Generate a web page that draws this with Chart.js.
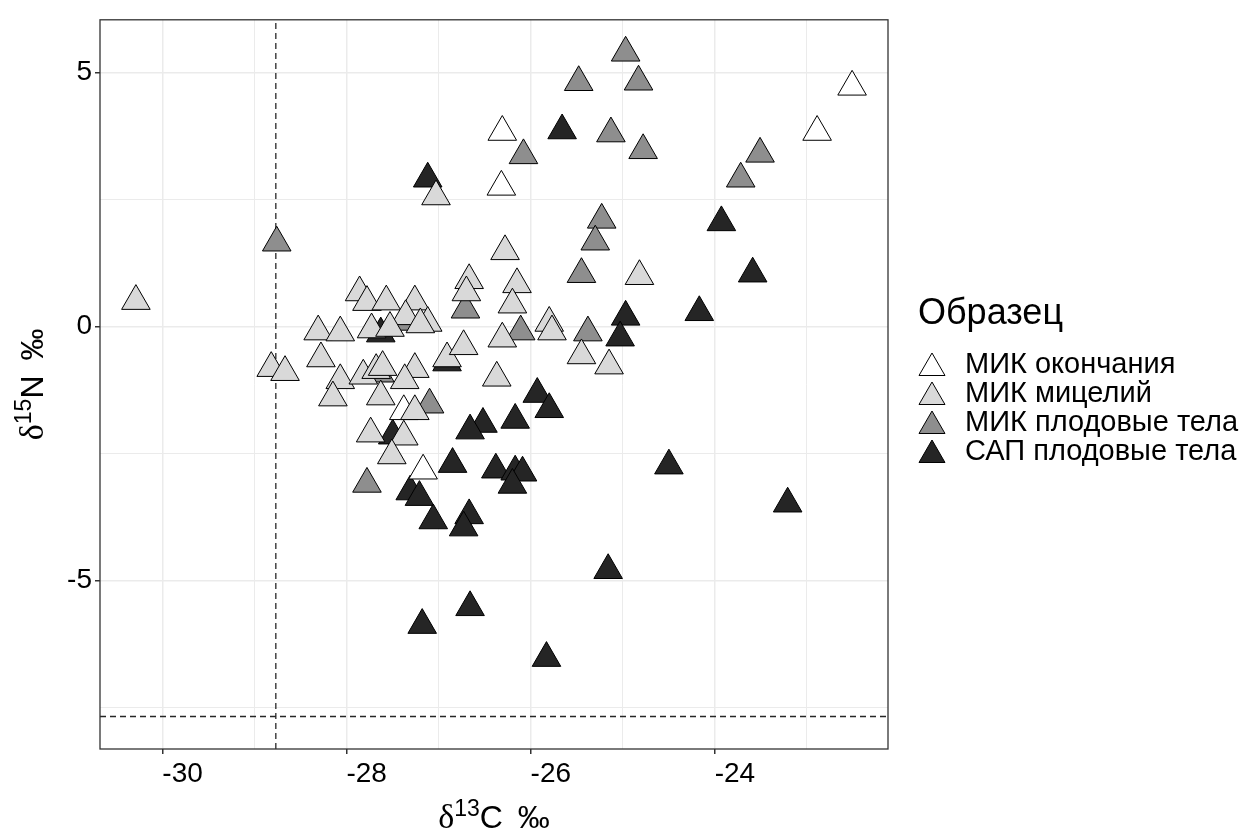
<!DOCTYPE html>
<html>
<head>
<meta charset="utf-8">
<script src="https://cdn.jsdelivr.net/npm/chart.js@4.4.1/dist/chart.umd.min.js"></script>
<style>
  html, body { margin: 0; padding: 0; background: #ffffff; }
  #wrap { width: 1241px; height: 834px; }
</style>
</head>
<body>
<div id="wrap"><canvas id="isoChart" width="1241" height="834"></canvas></div>
<script>
// groups, in legend order
const groupNames = ['МИК окончания', 'МИК мицелий', 'МИК плодовые тела', 'САП плодовые тела'];
const groupFill = ['#ffffff', '#d9d9d9', '#8e8e8e', '#252525'];

// δ13C / δ15N values
const okonX = [-26.31, -26.32, -22.89, -22.51, -27.38, -27.17];
const okonY = [3.83, 2.75, 3.83, 4.72, -1.67, -2.84];

const micX = [-30.29, -27.03, -26.28, -24.82, -26.15, -26.20, -25.80, -25.77, -26.31, -25.45,
	-25.15, -26.37, -27.86, -27.78, -27.57, -27.26, -26.67, -26.70, -27.36, -27.12,
	-27.20, -27.73, -27.53, -28.31, -28.07, -28.82, -28.67, -28.28, -28.07, -28.15,
	-27.82, -27.68, -27.61, -27.26, -27.37, -27.63, -26.91, -26.73, -27.26, -27.74,
	-27.38, -27.51];
const micY = [0.50, 2.56, 1.48, 0.99, 0.83, 0.43, 0.07, -0.10, -0.24, -0.57,
	-0.77, -1.01, 0.67, 0.48, 0.49, 0.49, 0.91, 0.67, 0.20, 0.07,
	0.04, -0.06, -0.03, -0.10, -0.12, -0.82, -0.90, -0.63, -1.06, -1.40,
	-0.97, -0.86, -0.80, -0.84, -1.06, -1.38, -0.63, -0.39, -1.67, -2.11,
	-2.17, -2.54];

const plodX = [-28.76, -24.97, -25.48, -24.83, -25.13, -24.78, -26.08, -23.51, -23.72, -25.23,
	-25.30, -25.45, -26.71, -27.38, -26.11, -25.38, -27.10, -27.78, -27.64];
const plodY = [1.65, 5.39, 4.81, 4.82, 3.80, 3.47, 3.37, 3.40, 2.91, 2.10,
	1.67, 1.03, 0.33, 0.09, -0.10, -0.12, -1.54, -3.10, -0.93];

const sapX = [-27.12, -25.66, -23.93, -23.59, -24.97, -24.17, -25.03, -26.91, -25.93, -25.80,
	-26.52, -26.17, -26.66, -27.50, -26.85, -26.38, -26.17, -26.09, -26.20, -24.50,
	-23.21, -27.31, -27.21, -27.06, -26.67, -26.73, -26.66, -27.18, -25.83, -25.16,
	-27.63];
const sapY = [2.91, 3.86, 2.05, 1.04, 0.19, 0.28, -0.22, -0.71, -1.33, -1.63,
	-1.92, -1.84, -2.05, -2.15, -2.71, -2.82, -2.86, -2.88, -3.12, -2.74,
	-3.49, -3.25, -3.36, -3.82, -3.72, -3.96, -5.53, -5.88, -6.53, -4.80,
	-0.14];

// reference lines
const vlineX = -28.77;
const hlineY = -7.68;

// axes
const xMin = -30.68, xMax = -22.12;
const yMin = -8.32, yMax = 6.04;
const xTickValues = [-30, -28, -26, -24];
const xTickLabels = ['-30', '-28', '-26', '-24'];
const xMinorValues = [-29, -27, -25, -23];
const yTickValues = [-5, 0, 5];
const yTickLabels = ['-5', '0', '5'];
const yMinorValues = [-7.5, -2.5, 2.5];

const FONT = '"Liberation Sans", Arial, sans-serif';

function toPoints(xs, ys) {
	return xs.map((x, i) => ({ x: x, y: ys[i] }));
}

function pointSet(label, xs, ys, fill, order) {
	return {
		label: label,
		data: toPoints(xs, ys),
		pointStyle: 'triangle',
		pointRadius: 16.5,
		pointHoverRadius: 16.5,
		backgroundColor: fill,
		borderColor: '#000000',
		borderWidth: 1,
		order: order
	};
}

function refLine(points) {
	return {
		label: '',
		data: points,
		showLine: true,
		pointRadius: 0,
		borderColor: '#262626',
		borderWidth: 1.3,
		borderDash: [6, 4],
		order: 10
	};
}

function isMajor(values, v) {
	return values.some(m => Math.abs(m - v) < 1e-6);
}

// grid + ticks that look like ggplot theme_bw
function axisOptions(min, max, majors, labels, minors, fit, labelShift) {
	const all = majors.concat(minors).sort((a, b) => a - b);
	return {
		type: 'linear',
		min: min,
		max: max,
		afterBuildTicks: scale => { scale.ticks = all.map(v => ({ value: v })); },
		afterFit: fit,
		grid: {
			color: '#ebebeb',
			lineWidth: ctx => (ctx.tick && isMajor(majors, ctx.tick.value)) ? 1.5 : 1,
			tickColor: ctx => (ctx.tick && isMajor(majors, ctx.tick.value)) ? '#333333' : 'rgba(0,0,0,0)',
			tickLength: 5,
			drawTicks: true
		},
		border: { display: false },
		ticks: {
			autoSkip: false,
			maxRotation: 0,
			padding: 3,
			labelOffset: labelShift,
			color: '#000000',
			font: { family: FONT, size: 28 },
			callback: value => {
				const i = majors.findIndex(m => Math.abs(m - value) < 1e-6);
				return i >= 0 ? labels[i] : '';
			}
		}
	};
}

// panel border on all four sides
const panelBorder = {
	id: 'panelBorder',
	afterDatasetsDraw(chart) {
		const { ctx, chartArea: a } = chart;
		ctx.save();
		ctx.strokeStyle = '#333333';
		ctx.lineWidth = 1.3;
		ctx.strokeRect(a.left, a.top, a.right - a.left, a.bottom - a.top);
		ctx.restore();
	}
};

// δ^13C ‰ style titles with a raised number
function drawIsoTitle(ctx, sup, letter, cx, cy, angle) {
	const greek = '34px "Liberation Serif", "DejaVu Serif", serif';
	const big = '32px ' + FONT;
	const small = '23px ' + FONT;
	const gap = 6;
	ctx.save();
	ctx.translate(cx, cy);
	ctx.rotate(angle);
	ctx.fillStyle = '#000000';
	ctx.textBaseline = 'alphabetic';
	ctx.textAlign = 'left';
	ctx.font = greek;
	const w1 = ctx.measureText('δ').width;
	ctx.font = small;
	const w2 = ctx.measureText(sup).width;
	ctx.font = big;
	const w3 = ctx.measureText(letter + ' ').width;
	const w4 = ctx.measureText('‰').width;
	let x = -(w1 + w2 + w3 + gap + w4) / 2;
	ctx.font = greek;
	ctx.fillText('δ', x, 0);
	x += w1;
	ctx.font = small;
	ctx.fillText(sup, x, -12);
	x += w2;
	ctx.font = big;
	ctx.fillText(letter, x, 0);
	x += w3 + gap;
	ctx.fillText('‰', x, 0);
	ctx.restore();
}

const axisTitles = {
	id: 'axisTitles',
	afterDraw(chart) {
		const { ctx, chartArea: a } = chart;
		drawIsoTitle(ctx, '13', 'C', (a.left + a.right) / 2, 828, 0);
		drawIsoTitle(ctx, '15', 'N', 43, (a.top + a.bottom) / 2, -Math.PI / 2);
	}
};

// legend on the right: title + triangle keys
const sideLegend = {
	id: 'sideLegend',
	afterDraw(chart) {
		const ctx = chart.ctx;
		ctx.save();
		ctx.fillStyle = '#000000';
		ctx.textAlign = 'left';
		ctx.textBaseline = 'alphabetic';
		ctx.font = '36px ' + FONT;
		ctx.fillText('Образец', 918, 324);
		ctx.font = '29px ' + FONT;
		groupNames.forEach((name, i) => {
			const cy = 365 + i * 29;
			ctx.fillStyle = groupFill[i];
			ctx.strokeStyle = '#000000';
			ctx.lineWidth = 1;
			Chart.helpers.drawPoint(ctx, { pointStyle: 'triangle', radius: 15, borderWidth: 1 }, 932, cy + 3);
			ctx.fillStyle = '#000000';
			ctx.textBaseline = 'middle';
			ctx.fillText(name, 965, cy);
		});
		ctx.restore();
	}
};

window.onload = function () {
	const ctx = document.getElementById('isoChart').getContext('2d');
	new Chart(ctx, {
		type: 'scatter',
		data: {
			datasets: [
				pointSet(groupNames[1], micX, micY, groupFill[1], 0),
				pointSet(groupNames[0], okonX, okonY, groupFill[0], 1),
				pointSet(groupNames[2], plodX, plodY, groupFill[2], 2),
				pointSet(groupNames[3], sapX, sapY, groupFill[3], 3),
				refLine([{ x: vlineX, y: yMin }, { x: vlineX, y: yMax }]),
				refLine([{ x: xMin, y: hlineY }, { x: xMax, y: hlineY }])
			]
		},
		options: {
			responsive: false,
			animation: false,
			devicePixelRatio: 1,
			layout: { padding: { top: 14, right: 353, left: 0, bottom: 0 } },
			scales: {
				x: axisOptions(xMin, xMax, xTickValues, xTickLabels, xMinorValues,
					scale => { scale.height = 85; }, 20),
				y: axisOptions(yMin, yMax, yTickValues, yTickLabels, yMinorValues,
					scale => { scale.width = 100; }, 0)
			},
			plugins: {
				legend: { display: false },
				tooltip: { enabled: false }
			}
		},
		plugins: [panelBorder, axisTitles, sideLegend]
	});
};
</script>
</body>
</html>
